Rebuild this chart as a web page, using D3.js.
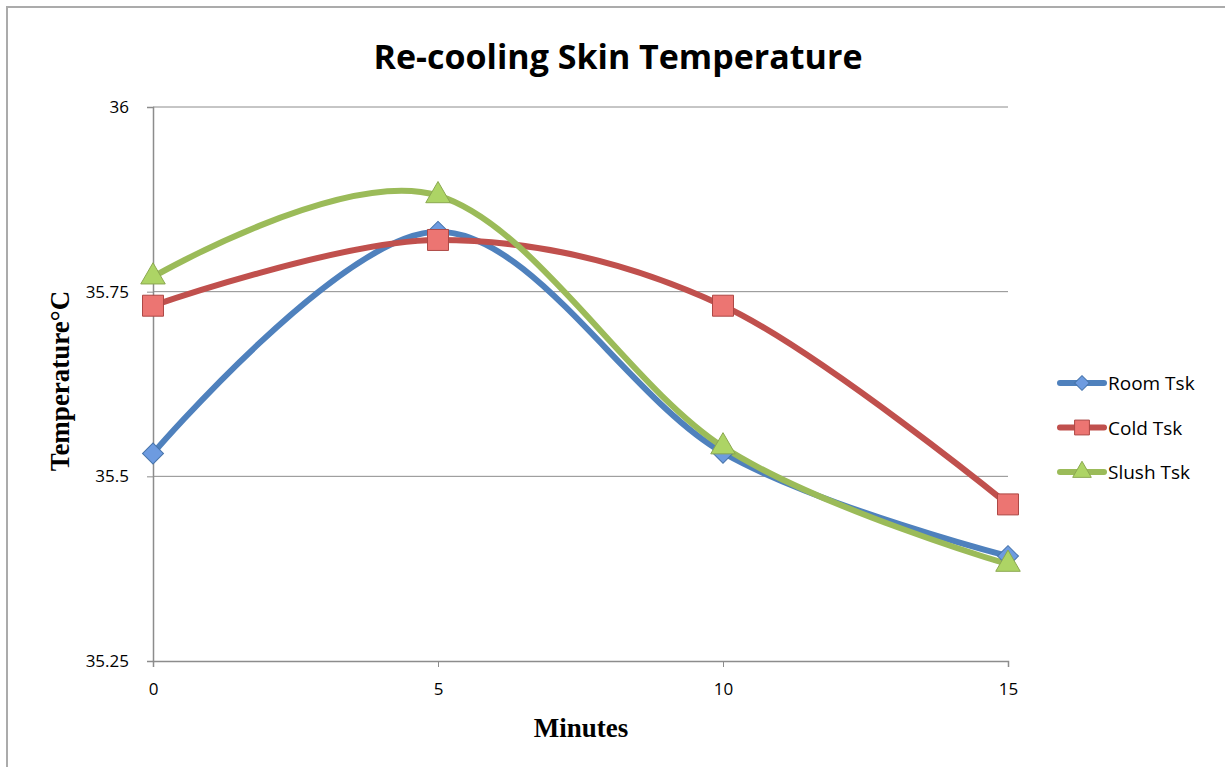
<!DOCTYPE html>
<html>
<head>
<meta charset="utf-8">
<script src="https://cdn.jsdelivr.net/npm/d3@7"></script>
<style>
  body { margin: 0; background: #fff; }
  svg { display: block; }
</style>
</head>
<body>
<svg id="chart" width="1225" height="767"></svg>
<script>
// Re-cooling skin temperature data
const minutes = [0, 5, 10, 15];
const roomTsk = [35.531, 35.831, 35.532, 35.392];
const coldTsk = [35.731, 35.820, 35.731, 35.462];
const slushTsk = [35.770, 35.880, 35.540, 35.381];
const yTicks = [35.25, 35.5, 35.75, 36];
const seriesNames = ["Room Tsk", "Cold Tsk", "Slush Tsk"];

const svg = d3.select("#chart");
const margin = { left: 153, right: 217, top: 107, bottom: 106 };
const width = 1225 - margin.left - margin.right,
      height = 767 - margin.top - margin.bottom;

// outer frame
svg.append("path")
  .attr("d", "M7,767 V7 H1225")
  .attr("fill", "none")
  .attr("stroke", "#ababab")
  .attr("stroke-width", 2);

const g = svg.append("g").attr("transform", `translate(${margin.left},${margin.top})`);

const x = d3.scaleLinear().domain([0, 15]).range([0, width]);
const y = d3.scaleLinear().domain([35.25, 36]).range([height, 0]);

// gridlines
g.selectAll(".grid")
  .data(yTicks.slice(1))
  .enter()
  .append("line")
  .attr("x1", 0).attr("x2", width)
  .attr("y1", d => y(d)).attr("y2", d => y(d))
  .attr("stroke", "#8c8c8c")
  .attr("stroke-width", 1);

// axes
const yAxis = g.append("g")
  .call(d3.axisLeft(y).tickValues(yTicks).tickSize(6).tickPadding(18)
    .tickFormat(d => String(d)));
const xAxis = g.append("g")
  .attr("transform", `translate(0,${height})`)
  .call(d3.axisBottom(x).tickValues(minutes).tickSize(6).tickPadding(16));

[yAxis, xAxis].forEach(a => {
  a.select(".domain").attr("stroke", "#8c8c8c").attr("stroke-width", 1.5);
  a.selectAll(".tick line").attr("stroke", "#8c8c8c");
  a.selectAll("text")
    .attr("fill", "#000")
    .style("font-family", "'Open Sans', sans-serif")
    .style("font-size", "17px");
});

const colors = ["#4f81bd", "#c0504d", "#9bbb59"];
const markerFill = ["#6d9be0", "#ec7572", "#add465"];
const data = [roomTsk, coldTsk, slushTsk].map((vals, i) => ({
  name: seriesNames[i],
  values: minutes.map((m, j) => ({ m, v: vals[j] }))
}));

const line = d3.line()
  .x(d => x(d.m))
  .y(d => y(d.v))
  .curve(d3.curveCardinal.tension(0));

g.selectAll(".line")
  .data(data)
  .enter()
  .append("path")
  .attr("fill", "none")
  .attr("stroke", (d, i) => colors[i])
  .attr("stroke-width", 6)
  .attr("stroke-linecap", "round")
  .attr("d", d => line(d.values));

const symbols = [
  d3.symbol().type(d3.symbolSquare).size(220),
  d3.symbol().type(d3.symbolSquare).size(440),
  d3.symbol().type(d3.symbolTriangle).size(260)
];
const rotate = [45, 0, 0];

data.forEach((s, i) => {
  g.selectAll(".pt" + i)
    .data(s.values)
    .enter()
    .append("path")
    .attr("d", symbols[i]())
    .attr("transform", d => `translate(${x(d.m)},${y(d.v)}) rotate(${rotate[i]})`)
    .attr("fill", markerFill[i])
    .attr("stroke", d3.color(colors[i]).darker(0.3))
    .attr("stroke-width", 1);
});

// title
svg.append("text")
  .attr("x", 618).attr("y", 69)
  .attr("text-anchor", "middle")
  .style("font-family", "'Open Sans', sans-serif")
  .style("font-weight", "bold")
  .style("font-size", "34px")
  .text("Re-cooling Skin Temperature");

// axis titles
svg.append("text")
  .attr("x", 581).attr("y", 737)
  .attr("text-anchor", "middle")
  .style("font-family", "'Liberation Serif', serif")
  .style("font-weight", "bold")
  .style("font-size", "27px")
  .text("Minutes");

svg.append("text")
  .attr("transform", "translate(69,381) rotate(-90)")
  .attr("text-anchor", "middle")
  .style("font-family", "'Liberation Serif', serif")
  .style("font-weight", "bold")
  .style("font-size", "27px")
  .text("Temperature°C");

// legend
const legend = svg.append("g").attr("transform", "translate(1058,383)");
data.forEach((s, i) => {
  const row = legend.append("g").attr("transform", `translate(0,${i * 44.5})`);
  row.append("line")
    .attr("x1", 2).attr("x2", 46)
    .attr("stroke", colors[i])
    .attr("stroke-width", 6)
    .attr("stroke-linecap", "round");
  const sz = [110, 220, 150][i];
  const t = [d3.symbolSquare, d3.symbolSquare, d3.symbolTriangle][i];
  row.append("path")
    .attr("d", d3.symbol().type(t).size(sz)())
    .attr("transform", `translate(24,0) rotate(${rotate[i]})`)
    .attr("fill", markerFill[i])
    .attr("stroke", d3.color(colors[i]).darker(0.3))
    .attr("stroke-width", 1);
  row.append("text")
    .attr("x", 50).attr("y", 7)
    .style("font-family", "'Open Sans', sans-serif")
    .style("font-size", "19px")
    .text(s.name);
});
</script>
</body>
</html>
